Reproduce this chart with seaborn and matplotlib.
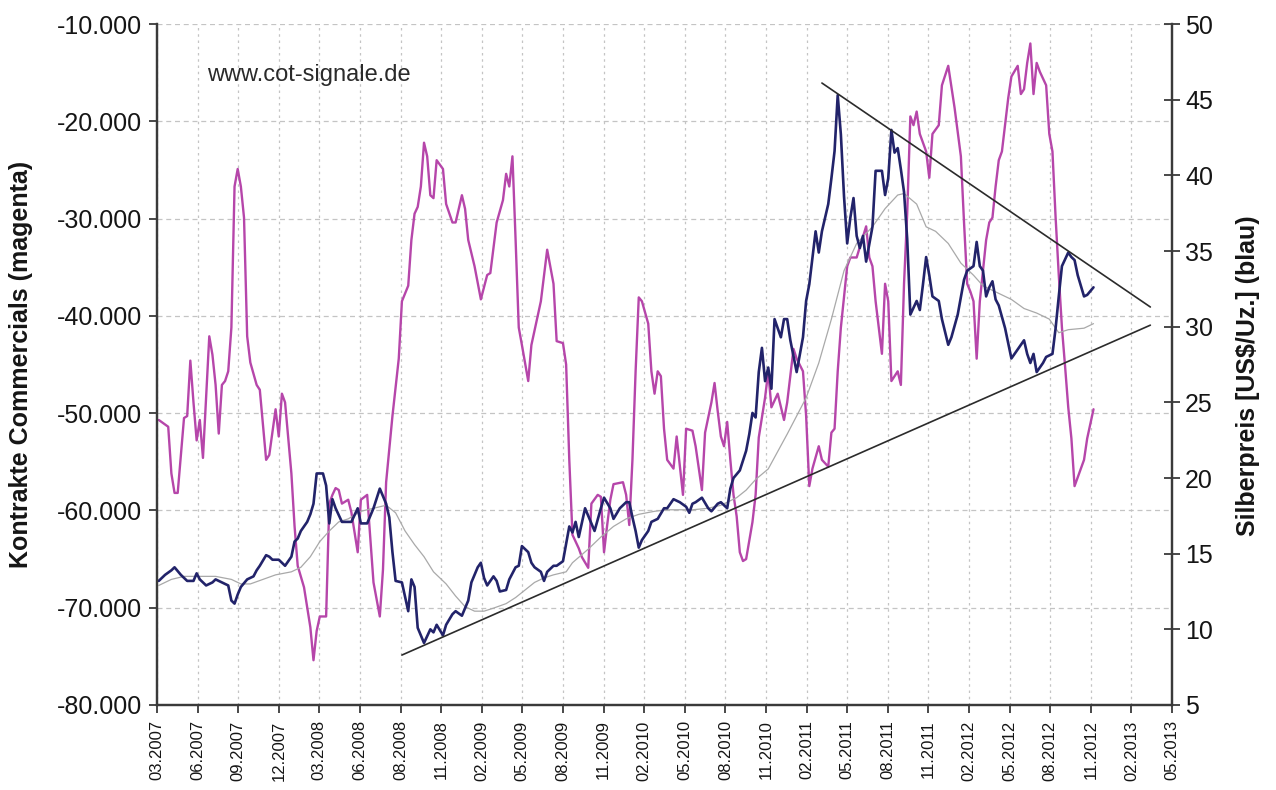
import pandas as pd
import matplotlib
matplotlib.use("Agg")
import matplotlib.pyplot as plt
import matplotlib.ticker as ticker
import seaborn as sns

# ================================
# DATEN (Wochennummer seit 13.03.2007)
# ================================
first_report = pd.Timestamp("2007-03-13")
axis_start = pd.Timestamp("2007-03-09")

# Kontrakte Commercials (magenta), Tausend Kontrakte
mag_week = [0, 3, 4, 5, 6, 8, 9, 10, 11, 12, 13, 14, 16, 17, 18, 19, 20, 21, 22, 23,
            24, 25, 26, 27, 28, 29, 31, 32, 34, 35, 37, 38, 39, 40, 42, 43, 44, 46, 48, 49,
            50, 51, 53, 54, 55, 56, 57, 58, 60, 61, 63, 64, 66, 67, 68, 70, 71, 72, 74, 76,
            77, 79, 80, 81, 82, 83, 84, 85, 86, 87, 88, 90, 91, 93, 94, 96, 97, 98, 100, 102,
            104, 105, 107, 109, 110, 111, 112, 113, 114, 115, 117, 118, 121, 123, 125, 126, 128, 129, 130, 131,
            133, 134, 136, 137, 139, 140, 141, 142, 143, 144, 147, 148, 149, 150, 151, 152, 153, 155, 156, 157,
            158, 159, 160, 161, 163, 164, 166, 167, 169, 170, 172, 173, 175, 176, 177, 178, 179, 180, 181, 182,
            183, 184, 185, 186, 188, 189, 190, 192, 193, 194, 196, 198, 199, 201, 202, 204, 205, 206, 207, 209,
            210, 212, 213, 214, 215, 216, 218, 219, 221, 224, 225, 226, 227, 229, 230, 231, 232, 234, 235, 236,
            237, 238, 239, 240, 241, 243, 244, 245, 247, 248, 250, 252, 254, 255, 256, 257, 258, 259, 260, 261,
            262, 263, 264, 265, 266, 267, 269, 270, 272, 273, 274, 275, 276, 277, 278, 279, 281, 282, 283, 284,
            285, 286, 287, 288, 289, 290, 291, 293, 294, 296]
mag_val = [-50.7, -51.4, -56.2, -58.2, -58.2, -50.5, -50.3, -44.6, -48.9, -52.8, -50.7, -54.6, -42.1, -44.0, -47.1, -52.1, -47.1, -46.7, -45.7, -41.2,
           -26.7, -24.9, -26.7, -29.9, -42.1, -44.8, -47.1, -47.6, -54.8, -54.3, -49.6, -52.4, -48.0, -48.9, -56.2, -61.6, -65.7, -67.9, -72.0, -75.4,
           -72.4, -70.9, -70.9, -59.3, -58.4, -57.7, -57.9, -59.3, -58.9, -60.2, -64.3, -58.9, -58.4, -62.9, -67.4, -70.9, -66.1, -57.1, -50.3, -44.4,
           -38.5, -36.9, -32.2, -29.5, -28.8, -26.7, -22.2, -23.6, -27.6, -27.9, -24.0, -24.9, -28.5, -30.4, -30.4, -27.6, -29.0, -32.2, -34.9, -38.3,
           -35.8, -35.6, -30.4, -28.1, -25.4, -26.7, -23.6, -32.2, -41.2, -43.0, -46.7, -43.0, -38.5, -33.2, -36.7, -42.6, -42.8, -45.0, -54.8, -62.5,
           -63.9, -64.8, -65.9, -59.3, -58.4, -58.6, -64.3, -61.5, -58.9, -57.3, -57.1, -58.4, -61.5, -54.8, -45.7, -38.1, -38.5, -40.8, -45.7, -48.0,
           -45.7, -46.2, -51.6, -54.8, -55.7, -52.4, -58.4, -51.6, -51.8, -53.4, -57.9, -52.0, -48.9, -46.9, -49.8, -52.4, -53.4, -50.9, -54.8, -58.4,
           -60.6, -64.3, -65.2, -65.0, -61.2, -58.4, -52.5, -48.4, -45.7, -49.4, -48.0, -50.7, -48.9, -43.4, -44.4, -45.7, -50.3, -57.5, -55.7, -53.4,
           -54.8, -55.5, -52.0, -51.6, -45.7, -41.2, -34.9, -34.0, -34.0, -30.8, -34.0, -34.9, -38.5, -43.9, -36.7, -38.5, -46.7, -45.7, -47.1, -36.7,
           -29.5, -19.5, -20.4, -19.0, -21.3, -23.1, -25.8, -21.3, -20.4, -16.3, -14.3, -18.6, -23.6, -30.4, -36.7, -37.5, -38.5, -44.4, -38.5, -35.3,
           -32.2, -30.4, -29.9, -26.7, -24.0, -23.1, -17.6, -15.4, -14.3, -17.2, -16.7, -14.0, -12.0, -17.2, -14.0, -14.9, -16.3, -21.3, -23.1, -29.9,
           -35.8, -41.2, -45.2, -49.4, -52.6, -57.5, -56.6, -54.8, -52.6, -49.6]

# Silberpreis (blau), US$/Unze
blue_week = [0, 2, 4, 5, 7, 9, 11, 12, 13, 15, 17, 18, 20, 22, 23, 24, 25, 26, 28, 30,
             31, 32, 34, 35, 36, 38, 40, 42, 43, 44, 45, 47, 48, 49, 50, 52, 53, 54, 55, 56,
             58, 60, 61, 63, 64, 66, 68, 70, 72, 73, 74, 75, 77, 79, 80, 81, 82, 83, 84, 86,
             87, 88, 90, 91, 93, 94, 96, 98, 99, 101, 102, 103, 104, 106, 107, 108, 110, 111, 113, 114,
             115, 117, 118, 119, 121, 122, 123, 125, 126, 128, 130, 131, 132, 133, 135, 136, 138, 140, 141, 143,
             144, 146, 148, 149, 150, 151, 152, 153, 155, 156, 158, 160, 161, 163, 165, 167, 168, 169, 170, 172,
             174, 175, 177, 178, 180, 181, 182, 184, 186, 187, 188, 189, 190, 191, 192, 193, 194, 195, 197, 198,
             199, 200, 202, 204, 205, 206, 208, 209, 210, 212, 213, 214, 215, 216, 217, 218, 219, 220, 221, 222,
             223, 224, 226, 227, 229, 230, 231, 232, 233, 234, 235, 236, 237, 238, 240, 241, 242, 243, 244, 245,
             247, 248, 250, 251, 253, 255, 256, 258, 259, 260, 261, 262, 263, 264, 265, 266, 268, 270, 271, 273,
             274, 275, 276, 277, 278, 280, 281, 283, 284, 285, 286, 288, 289, 290, 291, 293, 294, 296]
blue_val = [13.2, 13.6, 13.9, 14.1, 13.6, 13.2, 13.2, 13.7, 13.3, 12.9, 13.1, 13.3, 13.1, 12.9, 11.9, 11.7, 12.3, 12.8, 13.3, 13.5,
            13.9, 14.2, 14.9, 14.8, 14.6, 14.6, 14.2, 14.8, 15.8, 16.0, 16.5, 17.1, 17.6, 18.3, 20.3, 20.3, 19.5, 17.0, 18.6, 18.0,
            17.1, 17.1, 17.1, 18.0, 17.0, 17.0, 18.0, 19.3, 18.3, 17.4, 15.1, 13.2, 13.1, 11.2, 13.3, 12.8, 10.1, 9.6, 9.1, 10.0,
            9.8, 10.3, 9.6, 10.3, 11.0, 11.2, 10.9, 11.9, 13.1, 14.1, 14.4, 13.4, 12.9, 13.5, 13.2, 12.5, 12.6, 13.3, 14.1, 14.2,
            15.5, 15.1, 14.4, 14.1, 13.8, 13.2, 13.8, 14.2, 14.2, 14.5, 16.8, 16.4, 17.1, 16.1, 18.0, 17.5, 16.5, 18.0, 18.7, 18.0,
            17.3, 18.0, 18.4, 18.4, 17.4, 16.5, 15.4, 15.9, 16.5, 17.1, 17.3, 18.0, 18.0, 18.6, 18.4, 18.1, 17.7, 18.3, 18.4, 18.7,
            18.0, 17.8, 18.3, 18.4, 18.0, 19.3, 20.0, 20.5, 21.8, 22.9, 24.3, 24.0, 27.0, 28.6, 26.4, 27.3, 25.9, 30.5, 29.3, 30.5,
            30.5, 29.1, 27.0, 29.3, 31.7, 32.8, 36.3, 34.9, 36.3, 38.1, 39.8, 41.6, 45.3, 42.7, 38.6, 35.5, 37.2, 38.5, 36.0, 35.2,
            36.0, 34.3, 36.6, 40.3, 40.3, 38.7, 39.8, 43.0, 41.5, 41.8, 40.4, 38.9, 35.8, 30.8, 31.7, 31.1, 32.8, 34.6, 33.4, 32.0,
            31.7, 30.5, 28.8, 29.3, 30.8, 33.1, 33.7, 34.0, 35.6, 34.0, 33.7, 32.0, 32.6, 33.0, 31.8, 31.4, 29.9, 27.9, 28.2, 28.8,
            29.1, 28.2, 27.6, 28.2, 27.0, 27.6, 28.0, 28.2, 29.9, 32.0, 34.0, 34.9, 34.6, 34.4, 33.4, 32.0, 32.1, 32.6]

# gleitender Durchschnitt Silberpreis (grau)
avg_week = [0, 4, 8, 13, 18, 23, 26, 29, 33, 37, 42, 45, 48, 51, 54, 57, 60, 64, 68, 72,
            75, 78, 81, 84, 87, 91, 94, 97, 100, 103, 106, 110, 113, 116, 119, 122, 125, 129, 131, 136,
            140, 144, 148, 152, 157, 161, 165, 169, 174, 178, 180, 183, 186, 189, 193, 199, 205, 209, 213, 217,
            221, 226, 230, 234, 236, 240, 243, 246, 250, 254, 258, 261, 265, 270, 274, 278, 282, 285, 288, 293,
            296]
avg_val = [12.9, 13.3, 13.5, 13.5, 13.5, 13.3, 13.0, 13.0, 13.3, 13.6, 13.8, 14.1, 14.8, 15.8, 16.5, 17.1, 17.3, 17.8, 18.0, 18.2,
           17.7, 16.5, 15.6, 14.8, 13.8, 13.0, 12.2, 11.5, 11.2, 11.2, 11.4, 11.7, 12.1, 12.6, 13.1, 13.4, 13.6, 13.8, 14.4, 15.3,
           16.1, 16.8, 17.3, 17.6, 17.8, 17.9, 17.9, 17.9, 18.0, 18.2, 18.4, 18.7, 19.2, 19.9, 20.6, 22.9, 25.3, 27.6, 30.5, 33.7,
           35.5, 36.6, 37.8, 38.7, 38.8, 38.1, 36.6, 36.3, 35.5, 34.2, 33.4, 32.7, 32.3, 31.8, 31.2, 30.9, 30.5, 29.6, 29.8, 29.9,
           30.2]

# Trendlinien (Dreieck)
lower_week = [77, 314]
lower_val = [8.3, 30.1]
upper_week = [210, 314]
upper_val = [46.1, 31.3]

left_ticks = [-80000, -70000, -60000, -50000, -40000, -30000, -20000, -10000]
left_labels = ["-80.000", "-70.000", "-60.000", "-50.000", "-40.000", "-30.000", "-20.000", "-10.000"]
right_ticks = [5, 10, 15, 20, 25, 30, 35, 40, 45, 50]
x_labels = ["03.2007", "06.2007", "09.2007", "12.2007", "03.2008", "06.2008", "08.2008", "11.2008",
            "02.2009", "05.2009", "08.2009", "11.2009", "02.2010", "05.2010", "08.2010", "11.2010",
            "02.2011", "05.2011", "08.2011", "11.2011", "02.2012", "05.2012", "08.2012", "11.2012",
            "02.2013", "05.2013"]


def week_to_date(weeks):
    return first_report + pd.to_timedelta([w * 7 for w in weeks], unit="D")


mag = pd.DataFrame({"date": week_to_date(mag_week), "val": [v * 1000 for v in mag_val]})
blue = pd.DataFrame({"date": week_to_date(blue_week), "val": blue_val})
avg = pd.DataFrame({"date": week_to_date(avg_week), "val": avg_val})

# Farben
MAGENTA = "#b646aa"
NAVY = "#22236a"
GRAU = "#a9a9a9"
ACHSE = "#3a3a3a"
TEXT = "#151515"

sns.set_style("white")
plt.rcParams["font.family"] = ["Liberation Sans", "DejaVu Sans"]

fig = plt.figure(figsize=(12.76, 7.90), dpi=100)
ax = fig.add_axes([0.123, 0.1076, 0.7955, 0.862])
ax2 = ax.twinx()

sns.lineplot(data=mag, x="date", y="val", ax=ax, color=MAGENTA, linewidth=1.7, estimator=None)
sns.lineplot(data=avg, x="date", y="val", ax=ax2, color=GRAU, linewidth=0.9, estimator=None)
sns.lineplot(data=blue, x="date", y="val", ax=ax2, color=NAVY, linewidth=1.9, estimator=None)
ax2.plot(week_to_date(lower_week), lower_val, color="#2b2b2b", linewidth=1.2)
ax2.plot(week_to_date(upper_week), upper_val, color="#2b2b2b", linewidth=1.2)

# Achsen
x_ticks = [axis_start + pd.Timedelta(days=90 * k) for k in range(len(x_labels))]
ax.set_xlim(axis_start, x_ticks[-1])
ax.set_xticks(x_ticks)
ax.set_xticklabels(x_labels, rotation=90, fontsize=12, color=TEXT)

ax.set_ylim(-80000, -10000)
ax.set_yticks(left_ticks)
ax.set_yticklabels(left_labels, fontsize=18, color=TEXT)
ax2.set_ylim(5, 50)
ax2.set_yticks(right_ticks)
ax2.yaxis.set_major_formatter(ticker.FormatStrFormatter("%d"))
ax2.tick_params(axis="y", labelsize=18, labelcolor=TEXT, direction="inout",
                length=11, width=1.3, color=ACHSE, pad=4)
ax.tick_params(axis="y", direction="out", length=6, width=1.3, color=ACHSE, pad=5, left=True)
ax.tick_params(axis="x", direction="out", length=6, width=1.3, color=ACHSE, pad=5, bottom=True)

ax.set_xlabel("")
ax2.set_xlabel("")
ax.set_ylabel("Kontrakte Commercials (magenta)", fontsize=18, fontweight="bold", color=TEXT)
ax.yaxis.set_label_coords(-0.122, 0.5)
ax2.set_ylabel("Silberpreis [US$/Uz.] (blau)", fontsize=18, fontweight="bold", color=TEXT,
               rotation=90)
ax2.yaxis.set_label_coords(1.063, 0.483)

# Gitter
ax.set_axisbelow(True)
ax.yaxis.grid(True, linestyle=(0, (4, 3)), color="#c4c4c4", linewidth=0.9)
ax.xaxis.grid(True, linestyle=(0, (2, 3)), color="#c4c4c4", linewidth=0.9)

for a in (ax, ax2):
    a.spines["top"].set_visible(False)
    for side in ("left", "bottom", "right"):
        a.spines[side].set_color(ACHSE)
        a.spines[side].set_linewidth(1.6)

ax.text(0.049, 0.925, "www.cot-signale.de", transform=ax.transAxes, fontsize=17,
        color="#2a2a2a", va="center", ha="left")

fig.savefig("out.png", dpi=100, facecolor="white")
